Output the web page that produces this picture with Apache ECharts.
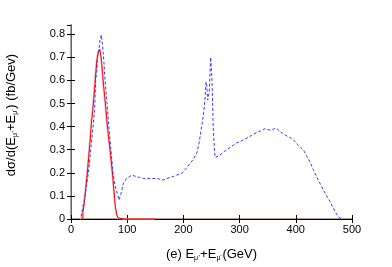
<!DOCTYPE html>
<html><head><meta charset="utf-8">
<script src="https://cdn.jsdelivr.net/npm/echarts@6/dist/echarts.min.js"></script>
<style>html,body{margin:0;padding:0;background:#fff}#c{width:392px;height:267px}</style>
</head><body><div id="c"></div>
<script>
var xTicks = [0, 100, 200, 300, 400, 500];
var yTicks = [0, 0.1, 0.2, 0.3, 0.4, 0.5, 0.6, 0.7, 0.8];

var redE = [17.5,20,22.5,25,27.5,30,32.5,35,37.5,40,42.5,45,47.5,50,52.5,55,57.5,60,62.5,65,67.5,70,72.5,75,77.5,80,82.5,85,87.5,100,120,150];
var redV = [0,0.005,0.03,0.07,0.13,0.19,0.26,0.33,0.41,0.47,0.54,0.62,0.69,0.72,0.735,0.70,0.63,0.56,0.50,0.43,0.37,0.32,0.26,0.20,0.13,0.06,0.02,0.005,0,0,0,0];

var blueE = [17.8,21,24.9,28,30.8,34,36.8,39.7,42,43.9,46,47.5,50,51.6,54,56.4,58.5,60.5,63.5,66.4,68.5,70.6,72.5,74.1,76,78.3,80.5,82.4,85.4,87,89,91,93,96,99,103,108,112,116.9,122,128.6,134,140.6,146,152.5,158,164.2,170,176,182,188,197,205,212,218,223.6,228,232.5,236,238.4,240.2,241.5,243.2,246,248.5,250.9,253.2,256.2,260,265,271,277,283,288.8,295,300.7,308,315.5,323,330.3,338,345,349,354,358,363,367,372,376,380.8,386,392.7,397,401.6,407,413.5,419,425,431,437,443,449,455,461,466,470,475.6,479,481.6];
var blueV = [0.01,0.05,0.097,0.15,0.198,0.27,0.342,0.41,0.47,0.60,0.64,0.717,0.74,0.775,0.797,0.746,0.68,0.60,0.52,0.429,0.37,0.313,0.26,0.212,0.18,0.147,0.125,0.111,0.082,0.09,0.111,0.13,0.155,0.165,0.176,0.182,0.19,0.187,0.183,0.18,0.176,0.174,0.176,0.175,0.176,0.172,0.169,0.174,0.18,0.184,0.19,0.198,0.22,0.241,0.26,0.284,0.33,0.40,0.46,0.515,0.594,0.58,0.515,0.551,0.70,0.60,0.385,0.267,0.27,0.277,0.29,0.299,0.31,0.32,0.33,0.335,0.345,0.353,0.365,0.374,0.382,0.391,0.388,0.385,0.386,0.393,0.39,0.378,0.372,0.364,0.357,0.349,0.34,0.325,0.313,0.299,0.275,0.248,0.215,0.183,0.155,0.126,0.1,0.075,0.05,0.032,0.01,0.003,0];

function pairs(a,b){var r=[];for(var i=0;i<a.length;i++)r.push([a[i],b[i]]);return r;}

var chart = echarts.init(document.getElementById('c'), null, {renderer:'canvas'});
var F = 'Liberation Sans, Arial, sans-serif';
var rich = {n:{fontSize:13,fontFamily:F,color:'#000'},s:{fontSize:7,fontFamily:F,color:'#000',padding:[9,0,0,0]}};
chart.setOption({
  animation:false,
  backgroundColor:'#fff',
  grid:{left:71,right:40,top:25,bottom:48,outerBoundsMode:'none',containLabel:false},
  xAxis:[{
    type:'value',min:0,max:500,interval:100,
    axisLine:{show:true,lineStyle:{color:'#a08080',width:1.5}},
    axisTick:{inside:true,length:4,lineStyle:{color:'#000'}},
    axisLabel:{fontFamily:F,fontSize:11,color:'#000',margin:5,
      formatter:function(v){return xTicks.indexOf(v)>=0?String(v):'';}},
    splitLine:{show:false},
    name:'{n|(e) E}{s|μ⁺}{n|+E}{s|μ⁻}{n|(GeV)}',nameLocation:'middle',nameGap:27,
    nameTextStyle:{fontFamily:F,rich:rich}
  },{
    type:'value',min:0,max:500,interval:100,position:'top',
    axisLine:{show:true,lineStyle:{color:'#000',width:1}},
    axisTick:{inside:true,length:4,lineStyle:{color:'#000'}},
    axisLabel:{show:false},splitLine:{show:false}
  }],
  yAxis:[{
    type:'value',min:0,max:0.84,interval:0.1,
    axisLine:{show:true,lineStyle:{color:'#000',width:1}},
    axisTick:{inside:true,length:4,lineStyle:{color:'#000'}},
    axisLabel:{fontFamily:F,fontSize:11,color:'#000',margin:6,showMaxLabel:false,
      formatter:function(v){var r=Math.round(v*10)/10;return Math.abs(v-r)<1e-6?String(r):'';}},
    splitLine:{show:false},
    name:'{n|dσ/d(E}{s|μ⁺}{n|+E}{s|μ⁻}{n|) (fb/Gev)}',nameLocation:'middle',nameGap:52,nameRotate:90,
    nameTextStyle:{fontFamily:F,rich:rich,padding:[0,0,0,14]}
  },{
    type:'value',min:0,max:0.84,interval:0.1,position:'right',
    axisLine:{show:true,lineStyle:{color:'#888',width:1.5}},
    axisTick:{inside:true,length:4,lineStyle:{color:'#000'}},
    axisLabel:{show:false},splitLine:{show:false}
  }],
  series:[
    {type:'line',data:pairs(redE.map(function(e){return e-0.8;}),redV),step:'middle',symbol:'none',xAxisIndex:0,yAxisIndex:0,
     lineStyle:{color:'#f8b0b0',width:1.5},z:2},
    {type:'line',data:pairs(redE,redV),step:'middle',symbol:'none',xAxisIndex:0,yAxisIndex:0,
     lineStyle:{color:'#ff0000',width:1},z:3},
    {type:'line',data:pairs(blueE,blueV),symbol:'none',xAxisIndex:0,yAxisIndex:0,
     lineStyle:{color:'#3a3aff',width:1,type:[3,2]},z:4}
  ]
});
</script></body></html>
